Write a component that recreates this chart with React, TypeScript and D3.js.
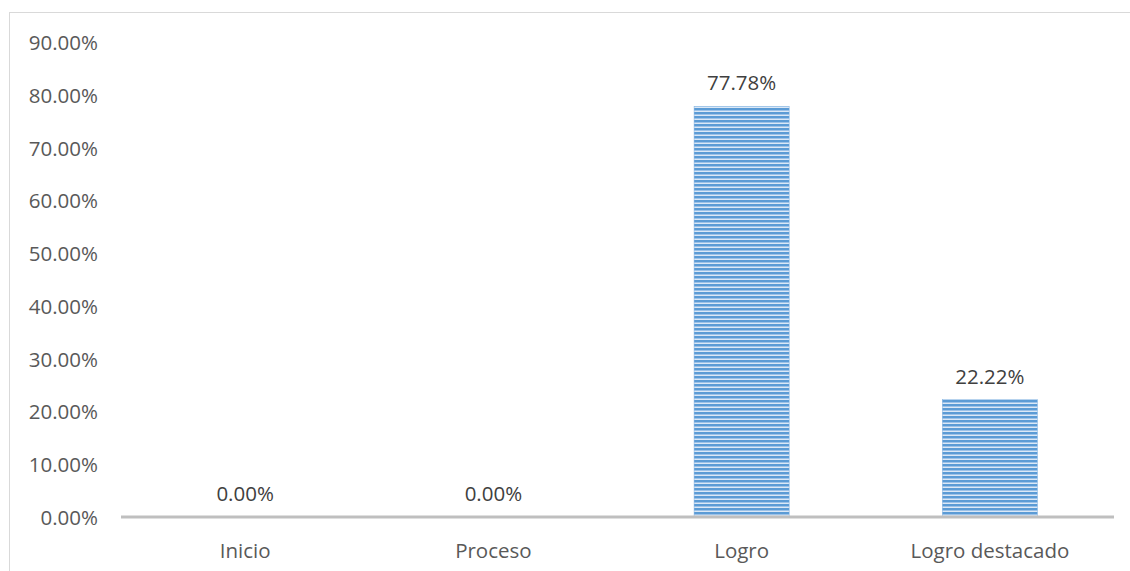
import React from "react";
import * as d3 from "d3";

const categories = ["Inicio", "Proceso", "Logro", "Logro destacado"];
const values = [0.0, 0.0, 77.78, 22.22];
const yTicks = [0, 10, 20, 30, 40, 50, 60, 70, 80, 90];

const W = 1130;
const H = 571;

export default function App() {
  const x = d3
    .scaleBand<string>()
    .domain(categories)
    .range([121, 1114])
    .paddingInner(0.617)
    .paddingOuter(0.3085);
  const y = d3.scaleLinear().domain([0, 90]).range([517, 42]);
  const font = "'Open Sans', 'DejaVu Sans', sans-serif";
  const fs = 20.5;
  return (
    <svg
      width={W}
      height={H}
      style={{ position: "absolute", left: 0, top: 0, background: "#fff" }}
      fontFamily={font}
    >
      <defs>
        <pattern id="hstripe" width="8" height="4" patternUnits="userSpaceOnUse">
          <rect x="0" y="0" width="8" height="4" fill="#dbe8f6" />
          <rect x="0" y="0" width="8" height="2" fill="#5b9bd5" />
          <rect x="0" y="2" width="8" height="1" fill="#9cc2e8" />
        </pattern>
      </defs>
      <rect x={9.5} y={12.5} width={1130} height={600} fill="#fff" stroke="#d9d9d9" strokeWidth={1} />
      {yTicks.map((t) => (
        <text
          key={t}
          x={98}
          y={y(t)}
          textAnchor="end"
          dominantBaseline="central"
          fontSize={fs}
          fill="#595959"
        >
          {t.toFixed(2) + "%"}
        </text>
      ))}
      {categories.map((c, i) => {
        const v = values[i];
        const bx = x(c) as number;
        const bw = x.bandwidth();
        return (
          <g key={c}>
            {v > 0 && (
              <rect x={bx} y={y(v)} width={bw} height={y(0) - y(v)} fill="url(#hstripe)" stroke="#7aaee0" strokeWidth={0.5} />
            )}
            <text
              x={bx + bw / 2}
              y={y(v) - 24}
              textAnchor="middle"
              dominantBaseline="central"
              fontSize={fs}
              fill="#404040"
            >
              {v.toFixed(2) + "%"}
            </text>
            <text
              x={bx + bw / 2}
              y={550}
              textAnchor="middle"
              dominantBaseline="central"
              fontSize={fs}
              fill="#595959"
            >
              {c}
            </text>
          </g>
        );
      })}
      <line x1={121} x2={1114} y1={y(0)} y2={y(0)} stroke="#bfbfbf" strokeWidth={3} />
    </svg>
  );
}
